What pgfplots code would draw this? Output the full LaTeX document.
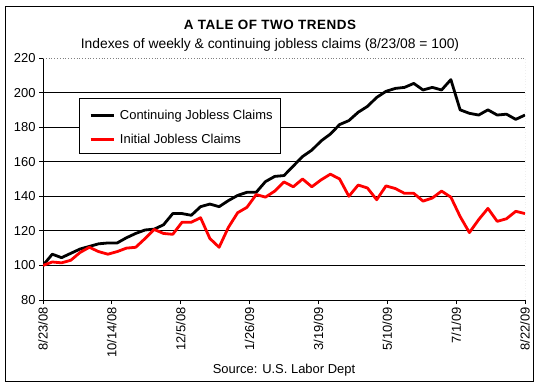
\documentclass[border=0pt]{standalone}
\usepackage{fontspec}
\setmainfont{Liberation Sans}
\newfontfamily\titlefont[LetterSpace=4]{Liberation Sans}
\usepackage{pgfplots}
\pgfplotsset{compat=1.18}
\begin{document}
\begin{tikzpicture}[x=1bp,y=1bp]
\useasboundingbox (0,0) rectangle (539,385);
\draw[black, line width=0.8bp] (5,4) rectangle (533,379);
\node[font=\titlefont\bfseries\fontsize{13.5}{16}\selectfont, anchor=base, inner sep=0pt] at (270,356) {A TALE OF TWO TRENDS};
\node[font=\fontsize{13.9}{16}\selectfont, anchor=base, inner sep=0pt] at (270,337) {Indexes of weekly \& continuing jobless claims (8/23/08 = 100)};
\node[font=\fontsize{13}{15}\selectfont, anchor=base, inner sep=0pt] at (284,12) {Source: U.S. Labor Dept};
\begin{axis}[
 at={(43bp,85bp)}, anchor=south west, scale only axis, width=482bp, height=242bp,
 xmin=0, xmax=364, ymin=80, ymax=220,
 axis x line*=bottom, axis y line*=left,
 axis line style={black, line width=0.8bp, -},
 xtick={0,52,...,364},
 xticklabels={8/23/08,10/14/08,12/5/08,1/26/09,3/19/09,5/10/09,7/1/09,8/22/09},
 tick label style={font=\fontsize{13}{15}\selectfont},
 xticklabel style={rotate=90, anchor=east},
 ytick={80,100,...,200}, extra y ticks={220}, extra y tick style={grid=none},
 ymajorgrids, grid style={black, line width=0.8bp},
 tick align=outside, major tick length=4bp, tick style={black, line width=0.8bp},
 /pgf/number format/assume math mode=true,
 legend cell align=left,
 legend style={at={(0.0954,0.785)}, anchor=north west, draw=none, fill=none, inner sep=0pt,
   row sep=13bp, column sep=5bp, font=\fontsize{13}{15}\selectfont,
   nodes={inner sep=0pt, text height=9bp, text depth=2bp}},
 legend image code/.code={\draw[#1] (0bp,0bp) -- (23bp,0bp);},
]
\draw[gray, dotted, line width=0.8bp] (rel axis cs:0,1) -- (rel axis cs:1,1) -- (rel axis cs:1,0);
\draw[black, fill=white, line width=0.8bp] (rel axis cs:0.0747,0.835) rectangle (rel axis cs:0.4917,0.6074);
\addplot[black, line width=2.8bp, line join=round] coordinates {
(0,100) (7,106.5) (14,104.5) (21,107) (28,109.5) (35,111) (42,112.5) (49,113) (56,113) (63,116)
(70,118.5) (77,120.5) (84,121) (91,123.5) (98,130) (105,130) (112,129) (119,134) (126,135.5) (133,134)
(140,137.5) (147,140.5) (154,142.3) (161,142.3) (168,148.5) (175,151.5) (182,152) (189,157.5) (196,163) (203,166.7)
(210,172) (217,176) (224,181.5) (231,183.8) (238,188.6) (245,192) (252,197.2) (259,200.7) (266,202.4) (273,203)
(280,205.3) (287,201.5) (294,203) (301,201.5) (308,207.5) (315,190) (322,188) (329,187) (336,190) (343,187)
(350,187.5) (357,184.5) (364,187)
};
\addlegendentry{Continuing Jobless Claims}
\addplot[red, line width=2.8bp, line join=round] coordinates {
(0,100) (7,102) (14,101.5) (21,103) (28,107.5) (35,110.5) (42,108) (49,106.5) (56,108) (63,110)
(70,110.5) (77,115.5) (84,120.8) (91,118.5) (98,118) (105,125) (112,125) (119,127.6) (126,115.6) (133,110.5)
(140,122) (147,130.5) (154,133.6) (161,141) (168,139.5) (175,143) (182,148.3) (189,145.5) (196,150) (203,145.5)
(210,149.5) (217,152.8) (224,150) (231,140) (238,146.5) (245,144.8) (252,138) (259,146) (266,144.5) (273,141.7)
(280,141.7) (287,137.2) (294,139) (301,143) (308,139.5) (315,128.3) (322,119) (329,126.5) (336,133) (343,125.5)
(350,127) (357,131.3) (364,130)
};
\addlegendentry{Initial Jobless Claims}
\end{axis}
\end{tikzpicture}
\end{document}
